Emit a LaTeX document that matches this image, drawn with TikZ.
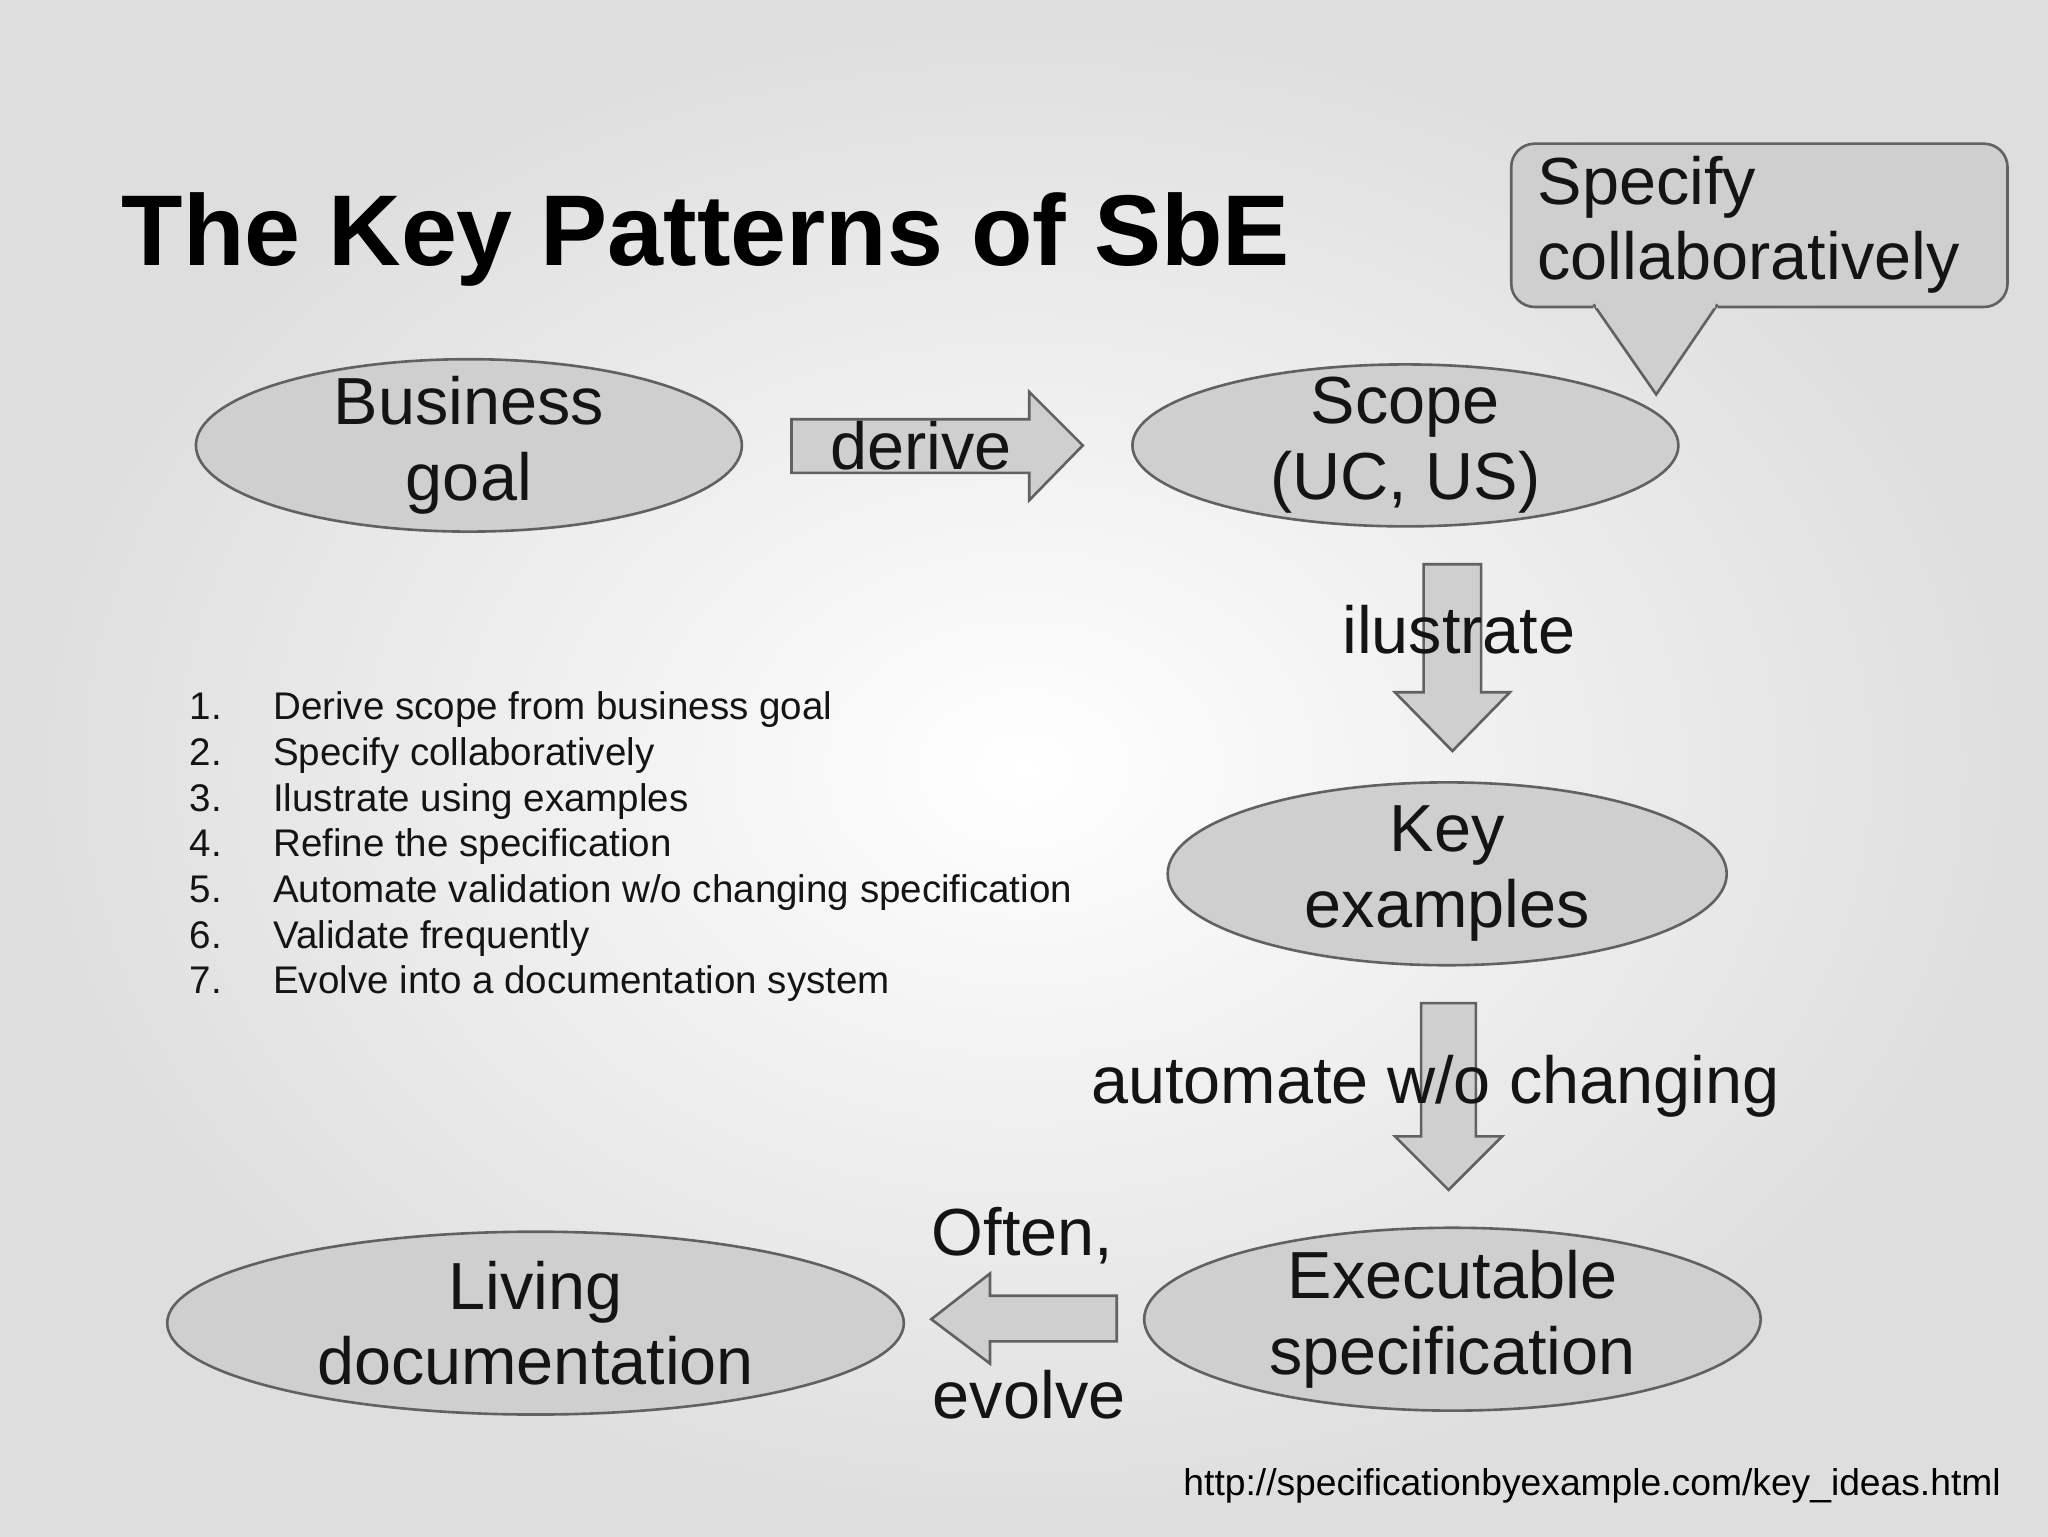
\documentclass[tikz,border=0pt]{standalone}
\usepackage{fontspec}
\setmainfont{Liberation Sans}
\begin{document}
\begin{tikzpicture}[x=1pt,y=-1pt,
  oval/.style={draw=black!62,fill=black!19,line width=2pt},
  blk/.style={draw=black!62,fill=black!19,line width=2pt,line join=miter},
  lbl/.style={font=\fontsize{51}{58}\selectfont,align=center,text=black!92,inner sep=0pt},
  lst/.style={font=\fontsize{29.5}{34}\selectfont,anchor=base west,inner sep=0pt,text=black!92}]
\useasboundingbox (0,0) rectangle (1568,1176);
\shade[inner color=white,outer color=black!13] (0,0) rectangle (1568,1176);
\filldraw[oval] (359,341) ellipse [x radius=209,y radius=66];
\filldraw[oval] (1076,341) ellipse [x radius=209,y radius=62];
\filldraw[oval] (1108,669) ellipse [x radius=214,y radius=70];
\filldraw[oval] (1112,1010) ellipse [x radius=236,y radius=70];
\filldraw[oval] (410,1013) ellipse [x radius=282,y radius=70];
\filldraw[blk] (606,321) -- (788,321) -- (788,300) -- (829,341) -- (788,383) -- (788,362) -- (606,362) -- cycle;
\filldraw[blk] (1090,432) -- (1134,432) -- (1134,530) -- (1156,530) -- (1112,575) -- (1068,530) -- (1090,530) -- cycle;
\filldraw[blk] (1088,768) -- (1130,768) -- (1130,870) -- (1150,870) -- (1109,911) -- (1068,870) -- (1088,870) -- cycle;
\filldraw[blk] (855,992) -- (758,992) -- (758,975) -- (713,1010) -- (758,1044) -- (758,1027) -- (855,1027) -- cycle;
\filldraw[blk,rounded corners=18pt] (1220,235) -- (1157,235) -- (1157,110) -- (1537,110) -- (1537,235) -- (1315,235);
\filldraw[blk] (1220,233) -- (1268,302) -- (1315,233);
\fill[black!19] (1222,226) rectangle (1313,236);
\node[lbl,anchor=west,align=left] (spec) at (1177,172) {Specify\\collaboratively};
\node[font=\bfseries\fontsize{77}{86}\selectfont,anchor=west,inner sep=0pt] (title) at (93,183) {The Key Patterns of SbE};
\node[lbl] (bg) at (359,341) {Business\\goal};
\node[lbl] (sc) at (1076,341) {Scope\\(UC, US)};
\node[lbl] (ke) at (1108,669) {Key\\examples};
\node[lbl] (ex) at (1112,1010) {Executable\\specification};
\node[lbl] (ld) at (410,1013) {Living\\documentation};
\node[lbl] (derive) at (705,341) {derive};
\node[lbl] (ilu) at (1117,482) {ilustrate};
\node[lbl] (aut) at (1099,832) {automate w/o changing};
\node[lbl] (often) at (783,946) {Often,};
\node[lbl] (evolve) at (788,1068) {evolve};
\foreach \n/\t [count=\i from 0] in {1/{Derive scope from business goal},2/{Specify collaboratively},3/{Ilustrate using examples},4/{Refine the specification},5/{Automate validation w/o changing specification},6/{Validate frequently},7/{Evolve into a documentation system}}{
  \node[lst] (n\n) at (145,551+35*\i) {\n.};
  \node[lst] (t\n) at (209,551+35*\i) {\t};
}
\node[font=\fontsize{28.5}{30}\selectfont,anchor=base east,inner sep=0pt] (url) at (1532,1145) {http://specificationbyexample.com/key\_ideas.html};
\end{tikzpicture}
\end{document}
